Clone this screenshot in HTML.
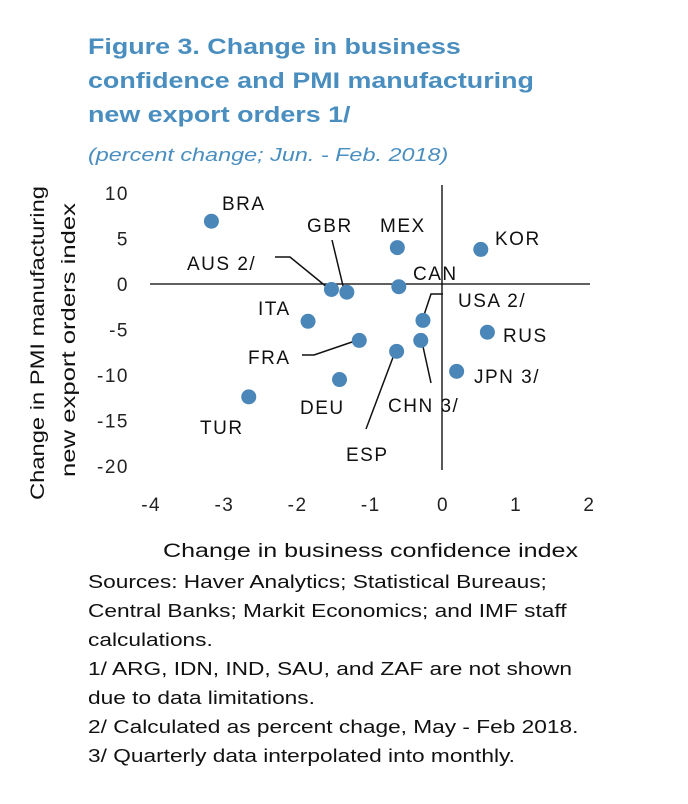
<!DOCTYPE html>
<html><head><meta charset="utf-8"><style>
body{margin:0;background:#fff;width:688px;height:804px;overflow:hidden;font-family:"Liberation Sans",sans-serif}
.t{position:absolute;left:88px;color:#4a8ec0;font-weight:bold;font-size:22px;line-height:34px;top:30px;transform:scaleX(1.22);transform-origin:0 0;white-space:nowrap}
.s{position:absolute;left:88px;top:145px;color:#4a8ec0;font-style:italic;font-size:18px;transform:scaleX(1.3);transform-origin:0 0;white-space:nowrap}
.f{position:absolute;left:88px;top:568px;font-size:18px;line-height:29px;color:#111;transform:scaleX(1.26);transform-origin:0 0;white-space:nowrap}
</style></head><body>
<div class="t">Figure 3. Change in business<br>confidence and PMI manufacturing<br>new export orders 1/</div>
<div class="s">(percent change; Jun. - Feb. 2018)</div>
<svg id="c" width="688" height="560" style="position:absolute;left:0;top:0"></svg>
<div class="f">Sources: Haver Analytics; Statistical Bureaus;<br>Central Banks; Markit Economics; and IMF staff<br>calculations.<br>1/ ARG, IDN, IND, SAU, and ZAF are not shown<br>due to data limitations.<br>2/ Calculated as percent chage, May - Feb 2018.<br>3/ Quarterly data interpolated into monthly.</div>
<script>
const countries=["BRA","MEX","KOR","AUS 2/","GBR","CAN","ITA","USA 2/","RUS","FRA","CHN 3/","ESP","JPN 3/","DEU","TUR"];
const xVals=[-3.15,-0.61,0.53,-1.51,-1.30,-0.59,-1.83,-0.26,0.62,-1.13,-0.29,-0.62,0.20,-1.40,-2.64];
const yVals=[6.9,4.0,3.8,-0.6,-0.9,-0.3,-4.1,-4.0,-5.3,-6.2,-6.2,-7.4,-9.6,-10.5,-12.4];
const xTicks=[-4,-3,-2,-1,0,1,2];
const yTicks=[10,5,0,-5,-10,-15,-20];
const X=v=>442+v*73.2, Y=v=>284-v*9.1;
const svg=document.getElementById('c');const NS="http://www.w3.org/2000/svg";
function mk(t,a,txt){const e=document.createElementNS(NS,t);for(const k in a)e.setAttribute(k,a[k]);if(txt!=null)e.textContent=txt;svg.appendChild(e);return e;}
let e;
e=mk('line',{x1:150,x2:590,y1:Y(0),y2:Y(0),stroke:'#000','stroke-width':1.3});


e=mk('line',{x1:X(0),x2:X(0),y1:185,y2:470,stroke:'#000','stroke-width':1.3});


xTicks.forEach(t=>{e=mk('text',{x:X(t)+(t<0?2:1),y:511,'text-anchor':'middle','font-size':19,'letter-spacing':1.5,fill:'#222'},t);

});
yTicks.forEach(t=>{e=mk('text',{x:129,y:Y(t)+7,'text-anchor':'end','font-size':19,'letter-spacing':1.5,fill:'#222'},t);

});
e=mk('text',{x:163,y:557,'font-size':19,fill:'#111',textLength:415,lengthAdjust:'spacingAndGlyphs'},'Change in business confidence index');


e=mk('text',{transform:'translate(44,343) rotate(-90)','font-size':19,fill:'#111',x:-157,textLength:314,lengthAdjust:'spacingAndGlyphs'},'Change in PMI manufacturing');


e=mk('text',{transform:'translate(75,340) rotate(-90)','font-size':19,fill:'#111',x:-137,textLength:274,lengthAdjust:'spacingAndGlyphs'},'new export orders index');


[[275,257,290,257,328,288],[332,240,332,240,344,290],[443,294,431,294,423,318],[302,355,314,355,355,341],[422,342,422,342,431,383],[395,352,395,352,366,429]].forEach(p=>{
e=mk('polyline',{points:`${p[0]},${p[1]} ${p[2]},${p[3]} ${p[4]},${p[5]}`,fill:'none',stroke:'#111','stroke-width':1.5});

});
countries.forEach((c,i)=>{e=mk('circle',{cx:X(xVals[i]),cy:Y(yVals[i]),r:7.5,fill:'#4a86b8'});

});
const labs={"BRA":[222,210],"MEX":[380,232],"KOR":[495,245],"AUS 2/":[187,270],"GBR":[307,232],"CAN":[413,280],"ITA":[258,315],"USA 2/":[458,307],"RUS":[503,342],"FRA":[248,364],"CHN 3/":[388,412],"ESP":[346,461],"JPN 3/":[474,383],"DEU":[300,414],"TUR":[200,434]};
countries.forEach(c=>{const p=labs[c];e=mk('text',{x:p[0],y:p[1],'font-size':19,'letter-spacing':1.5,fill:'#111'},c);

});
</script>
</body></html>
